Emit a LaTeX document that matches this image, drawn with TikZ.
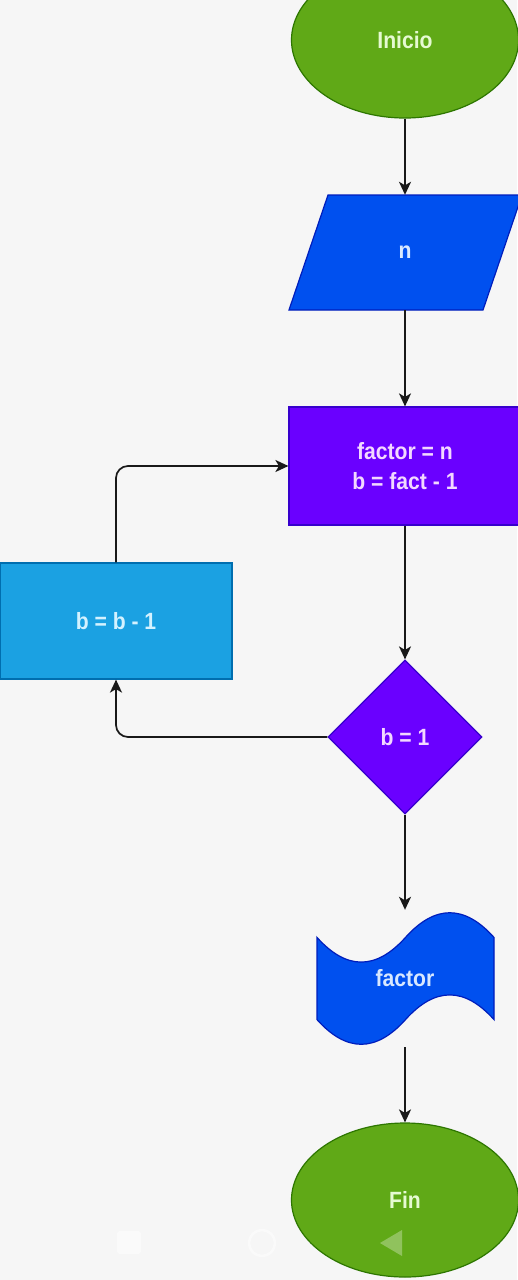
\documentclass[tikz,border=0pt]{standalone}
\usepackage{fontspec}
\newfontfamily\lbl[FakeStretch=0.9]{Liberation Sans Bold}
\usetikzlibrary{shapes.geometric,arrows.meta}
\definecolor{bgc}{HTML}{F6F6F6}
\definecolor{grn}{HTML}{60A917}
\definecolor{grnline}{HTML}{2D7600}
\definecolor{blu}{HTML}{0050EF}
\definecolor{bluline}{HTML}{001DBC}
\definecolor{pur}{HTML}{6A00FF}
\definecolor{purline}{HTML}{3700CC}
\definecolor{cyn}{HTML}{1BA1E2}
\definecolor{cynline}{HTML}{006EAF}
\definecolor{tgrn}{HTML}{E6FAD2}
\definecolor{tblu}{HTML}{D8E8FF}
\definecolor{tpur}{HTML}{F3D8FF}
\definecolor{tcyn}{HTML}{D4F2FF}
\begin{document}
\begin{tikzpicture}[x=1pt,y=-1pt,
  txt/.style={font=\lbl\fontsize{23.5}{30}\selectfont, align=center},
  shapeline/.style={line width=1.2pt},
  conn/.style={line width=1.7pt, draw=black!90, -{Stealth[length=13pt,width=12pt,inset=3.5pt]}}]
\useasboundingbox (0,0) rectangle (517,1280);
\fill[bgc] (0,0) rectangle (517,1280);

% start
\node[ellipse, shapeline, draw=grnline, fill=grn, minimum width=227pt, minimum height=156pt, inner sep=0, txt, text=tgrn] (ini) at (405,40) {Inicio};

% input
\fill[blu, draw=bluline, shapeline] (289,310) -- (483,310) -- (522,195) -- (328,195) -- cycle;
\node[txt, text=tblu, minimum width=194pt, minimum height=115pt, inner sep=0] (n) at (405,252.5) {n};

% process
\node[rectangle, shapeline, fill=pur, draw=purline, minimum width=232pt, minimum height=118pt, inner sep=0, txt, text=tpur] (calc) at (405,466) {factor = n\\b = fact - 1};

% decision
\node[diamond, aspect=1, shapeline, minimum width=154pt, minimum height=154pt, inner sep=0, fill=pur, draw=purline, txt, text=tpur] (dec) at (405,737) {b = 1};

% decrement
\node[rectangle, shapeline, fill=cyn, draw=cynline, minimum width=232pt, minimum height=116pt, inner sep=0, txt, text=tcyn] (bb) at (116,621) {b = b - 1};

% output (tape)
\fill[blu, draw=bluline, shapeline] (317,937.4)
  .. controls (346.5,970.3) and (376,970.3) .. (405.5,937.4)
  .. controls (435,904.5) and (464.5,904.5) .. (494,937.4)
  -- (494,1019.6)
  .. controls (464.5,986.7) and (435,986.7) .. (405.5,1019.6)
  .. controls (376,1052.5) and (346.5,1052.5) .. (317,1019.6)
  -- cycle;
\node[txt, text=tblu, minimum width=177pt, minimum height=137pt, inner sep=0] (out) at (405,978.5) {factor};

% end
\node[ellipse, shapeline, draw=grnline, fill=grn, minimum width=227pt, minimum height=154pt, inner sep=0, txt, text=tgrn] (fin) at (405,1200) {Fin};

% connectors
\draw[conn] (ini.south) -- (n.north);
\draw[conn] (n.south) -- (calc.north);
\draw[conn] (calc.south) -- (dec.north);
\draw[conn] (dec.south) -- (out.north);
\draw[conn] (out.south) -- (fin.north);
\draw[conn, rounded corners=12pt] (dec.west) -| (bb.south);
\draw[conn, rounded corners=12pt] (bb.north) |- (calc.west);

% faint navigation bar marks
\fill[white, opacity=0.5, rounded corners=3pt] (117,1231) rectangle (141,1254);
\draw[white, opacity=0.5, line width=2.5pt] (262,1243) circle[radius=13pt];
\fill[white, opacity=0.3] (402,1230) -- (402,1256) -- (380,1243) -- cycle;
\end{tikzpicture}
\end{document}
